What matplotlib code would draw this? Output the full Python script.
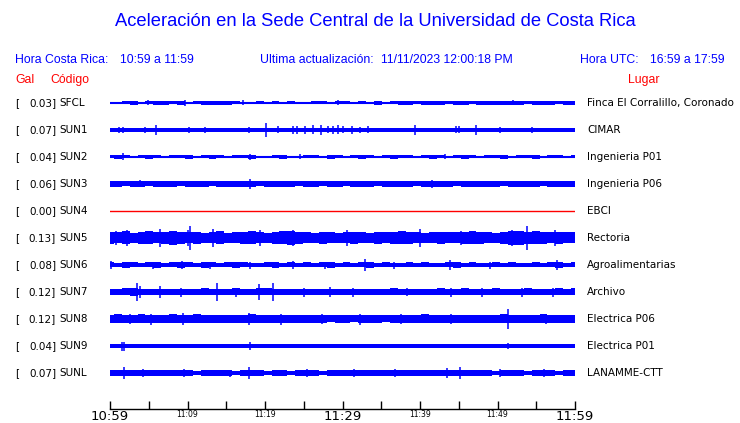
"""Acceleration traces, UNAM-style helicorder strip for the Sede Central stations."""
import numpy as np
import matplotlib
matplotlib.use("Agg")
import matplotlib.pyplot as plt
from matplotlib.transforms import blended_transform_factory

W, H = 740, 423
BLUE = "#0000ff"
RED = "#ff0000"

CODES = ["SFCL", "SUN1", "SUN2", "SUN3", "SUN4", "SUN5",
         "SUN6", "SUN7", "SUN8", "SUN9", "SUNL"]
PEAK_GAL = [0.03, 0.07, 0.04, 0.06, 0.00, 0.13, 0.08, 0.12, 0.12, 0.04, 0.07]
PLACES = ["Finca El Corralillo, Coronado", "CIMAR", "Ingenieria P01",
          "Ingenieria P06", "EBCI", "Rectoria", "Agroalimentarias", "Archivo",
          "Electrica P06", "Electrica P01", "LANAMME-CTT"]

# envelope of each trace, one value per minute (relative amplitude)
ENV = {
    "SFCL": [1.2, 0.8, 1.5, 1.8, 1.0, 1.5, 2.0, 2.0, 1.5, 1.8, 1.0, 1.5, 2.0, 2.0, 2.0,
             1.8, 1.5, 0.8, 1.0, 1.5, 1.0, 1.5, 0.8, 1.5, 1.0, 0.8, 1.5, 1.5, 1.0, 1.5,
             1.5, 1.0, 1.5, 1.0, 1.8, 1.0, 1.5, 1.8, 1.8, 1.5, 1.8, 2.0, 1.8, 1.5, 1.8,
             1.8, 1.5, 1.8, 2.0, 1.8, 2.0, 1.8, 2.0, 1.5, 1.8, 1.8, 2.0, 1.5, 2.0, 2.2],
    "SUN1": [2.2, 2.0, 2.2, 2.0, 2.2, 2.2, 2.0, 2.2, 2.0, 2.2, 2.2, 2.0, 2.2, 2.2, 2.0,
             2.2, 2.0, 2.2, 2.2, 2.0, 2.2, 2.2, 2.0, 2.2, 2.2, 2.0, 2.2, 2.2, 2.0, 2.2,
             2.2, 2.0, 2.2, 2.2, 2.0, 2.2, 2.2, 2.0, 2.2, 2.2, 2.0, 2.2, 2.2, 2.0, 2.2,
             2.2, 2.0, 2.2, 2.2, 2.0, 2.2, 2.2, 2.0, 2.2, 2.2, 2.0, 2.2, 2.2, 2.0, 2.2],
    "SUN2": [1.5, 1.8, 1.5, 1.2, 1.5, 1.8, 1.5, 1.2, 1.5, 1.5, 1.8, 1.2, 1.5, 1.8, 1.5,
             1.2, 1.5, 1.5, 1.8, 1.2, 1.0, 1.5, 1.8, 1.0, 1.2, 1.5, 1.5, 1.2, 1.8, 1.5,
             1.2, 1.5, 1.8, 1.5, 1.2, 1.5, 1.8, 1.5, 1.5, 1.2, 1.5, 1.8, 1.5, 1.2, 1.5,
             1.8, 1.5, 1.2, 1.5, 1.5, 1.8, 1.2, 1.5, 1.5, 1.8, 1.2, 1.5, 1.5, 1.2, 1.5],
    "SUN3": [3.0, 3.2, 2.5, 3.0, 2.8, 2.5, 3.0, 3.2, 2.8, 2.5, 3.0, 2.8, 3.2, 2.5, 3.0,
             3.0, 2.8, 3.2, 3.0, 2.5, 2.8, 3.0, 3.2, 2.8, 2.5, 3.0, 2.8, 2.5, 3.0, 2.8,
             2.5, 3.0, 2.8, 3.0, 2.5, 2.8, 3.0, 3.2, 2.8, 2.5, 3.0, 3.2, 2.8, 3.0, 2.5,
             3.0, 2.8, 3.2, 3.0, 2.8, 2.5, 3.0, 3.2, 2.8, 3.0, 2.5, 3.0, 2.8, 3.0, 3.0],
    "SUN4": [0.0] * 60,
    "SUN5": [6.0, 5.5, 6.5, 5.0, 6.0, 6.5, 5.5, 6.0, 7.0, 6.0, 5.5, 6.0, 5.0, 5.5, 6.5,
             5.0, 5.5, 6.0, 6.5, 5.5, 5.0, 6.0, 6.5, 7.0, 6.0, 5.5, 5.0, 6.0, 5.5, 5.0,
             5.5, 6.0, 5.5, 5.0, 6.0, 5.5, 6.0, 6.5, 6.0, 5.5, 5.0, 5.5, 6.0, 5.5, 5.5,
             6.0, 6.5, 6.0, 5.5, 5.0, 6.0, 7.0, 7.0, 6.0, 6.5, 6.0, 5.5, 6.0, 5.5, 5.5],
    "SUN6": [2.5, 2.2, 2.8, 2.5, 2.0, 2.5, 2.8, 2.2, 2.5, 3.0, 2.5, 2.2, 2.8, 2.5, 2.2,
             2.5, 2.8, 2.5, 2.0, 2.2, 2.5, 2.8, 2.2, 2.5, 2.0, 2.5, 2.2, 2.5, 2.8, 2.2,
             2.5, 2.0, 2.5, 2.8, 2.2, 2.5, 2.2, 2.0, 2.5, 2.2, 2.5, 2.2, 2.0, 2.5, 2.8,
             2.2, 2.5, 2.0, 2.2, 2.5, 2.2, 2.5, 2.0, 2.2, 2.5, 2.2, 2.5, 2.8, 2.2, 2.5],
    "SUN7": [3.2, 3.0, 3.5, 3.8, 3.0, 3.2, 3.0, 2.8, 3.2, 3.0, 2.8, 3.2, 3.5, 3.0, 2.8,
             3.2, 3.5, 3.0, 3.2, 3.5, 3.5, 3.2, 3.0, 2.8, 3.0, 3.2, 2.8, 3.0, 3.2, 3.0,
             2.8, 3.0, 3.2, 3.0, 3.2, 3.0, 3.5, 3.0, 2.8, 3.2, 3.0, 3.2, 3.5, 3.0, 3.2,
             3.5, 3.2, 3.0, 3.2, 3.5, 3.2, 3.0, 3.2, 3.5, 3.2, 3.0, 3.2, 3.5, 3.2, 3.5],
    "SUN8": [4.0, 4.5, 3.8, 4.2, 4.5, 4.0, 4.2, 3.8, 4.5, 4.0, 4.2, 4.5, 3.8, 4.0, 4.2,
             3.8, 4.0, 4.2, 4.5, 4.0, 3.8, 4.2, 4.0, 3.8, 4.2, 4.0, 3.8, 4.0, 3.5, 3.8,
             4.0, 3.5, 3.8, 4.0, 3.8, 3.5, 4.0, 3.8, 4.0, 4.2, 4.5, 4.0, 3.8, 4.2, 4.0,
             3.8, 4.0, 4.2, 4.0, 4.2, 4.5, 4.0, 3.8, 4.2, 4.0, 4.5, 4.0, 4.2, 4.0, 4.2],
    "SUN9": [2.0, 2.0, 2.2, 2.0, 2.0, 2.2, 2.0, 2.0, 2.0, 2.2, 2.0, 2.0, 2.0, 2.2, 2.0,
             2.0, 2.0, 2.2, 2.0, 2.0, 2.2, 2.0, 2.0, 2.0, 2.2, 2.0, 2.0, 2.0, 2.2, 2.0,
             2.0, 2.0, 2.2, 2.0, 2.0, 2.2, 2.0, 2.0, 2.0, 2.2, 2.0, 2.0, 2.0, 2.2, 2.0,
             2.0, 2.0, 2.2, 2.0, 2.0, 2.2, 2.0, 2.0, 2.0, 2.2, 2.0, 2.0, 2.0, 2.2, 2.0],
    "SUNL": [2.5, 3.0, 2.8, 3.2, 2.5, 2.8, 3.0, 2.5, 2.8, 3.2, 2.5, 2.2, 2.8, 2.5, 3.0,
             2.5, 2.2, 2.8, 3.0, 2.5, 2.2, 2.5, 2.8, 2.2, 2.5, 2.8, 2.5, 2.2, 2.5, 2.8,
             2.5, 2.8, 3.0, 2.5, 2.8, 3.2, 3.0, 2.8, 3.0, 2.5, 2.8, 2.5, 3.0, 3.2, 2.8,
             3.0, 2.5, 2.8, 2.5, 2.2, 2.5, 2.8, 2.5, 2.2, 2.5, 2.8, 2.5, 2.2, 2.5, 2.8],
}

# isolated peaks: (minute after 10:59, relative amplitude)
SPIKES = {
    "SFCL": [(4.9, 2.5), (9.7, 3.0), (17.2, 2.5), (29.4, 2.5), (52.0, 2.5)],
    "SUN1": [(1.2, 3.0), (1.7, 3.0), (4.5, 2.8), (5.9, 5.0), (10.2, 3.0), (12.3, 3.0),
             (17.9, 3.0), (20.1, 7.0), (21.7, 3.5), (23.6, 4.0), (24.1, 4.0),
             (25.2, 4.0), (26.2, 4.5), (27.2, 5.0), (28.1, 3.5), (28.8, 4.0),
             (29.4, 4.5), (30.1, 3.5), (31.2, 4.0), (32.3, 3.0), (33.3, 3.5),
             (39.4, 5.0), (44.6, 3.5), (45.0, 3.5), (47.2, 5.0), (50.3, 2.8), (54.5, 2.8)],
    "SUN2": [(1.7, 3.5), (18.1, 3.0), (24.5, 2.5), (43.2, 2.5)],
    "SUN3": [(3.9, 3.5), (18.1, 5.0), (41.5, 4.0)],
    "SUN4": [],
    "SUN5": [(0.8, 7.0), (2.2, 8.0), (6.5, 9.0), (10.0, 8.0), (10.3, 12.0),
             (13.3, 9.0), (19.4, 8.0), (23.6, 8.0), (30.6, 8.0), (40.0, 9.0),
             (45.3, 7.0), (51.9, 8.0), (53.8, 12.0), (57.4, 8.0)],
    "SUN6": [(0.1, 4.0), (5.6, 3.5), (9.3, 4.0), (12.9, 3.5), (18.0, 3.5), (23.6, 4.0),
             (27.8, 3.5), (32.9, 6.0), (36.6, 3.5), (43.9, 5.0), (49.0, 3.5),
             (57.7, 5.0)],
    "SUN7": [(3.5, 9.0), (3.9, 6.0), (6.5, 6.0), (9.1, 4.5), (13.8, 9.0), (16.2, 4.5),
             (19.2, 8.0), (21.0, 9.0), (25.0, 4.5), (28.4, 5.0), (31.4, 4.5),
             (38.3, 4.0), (44.0, 4.5), (48.0, 4.5), (53.2, 4.5), (57.2, 4.5)],
    "SUN8": [(2.6, 5.0), (5.3, 5.5), (9.4, 6.0), (11.6, 4.5), (17.9, 6.0), (22.0, 5.5),
             (27.4, 5.0), (32.2, 5.5), (37.5, 5.0), (44.0, 5.0), (51.4, 10.0),
             (56.2, 5.0)],
    "SUN9": [(1.6, 4.5), (1.8, 4.5), (18.1, 4.0), (51.4, 3.0)],
    "SUNL": [(1.8, 6.0), (4.2, 4.0), (9.5, 4.0), (15.5, 3.5), (17.9, 6.0),
             (25.4, 4.0), (31.5, 4.0), (36.8, 4.5), (43.5, 5.0), (45.2, 5.5),
             (50.3, 4.5), (56.0, 4.0)],
}

TICK_MIN = list(range(0, 61, 5))
TICK_LABELS = ["10:59", "", "11:09", "", "11:19", "", "11:29",
               "", "11:39", "", "11:49", "", "11:59"]
BIG_LABELS = {"10:59", "11:29", "11:59"}

ROW_PX = 27.0  # vertical spacing between traces, in pixels


def main():
    fig = plt.figure(figsize=(W / 100, H / 100), dpi=100)
    ax = fig.add_axes([110 / W, 1 - 409 / H, 465 / W, (409 - 90) / H])
    ax.set_xlim(0, 60)
    ax.set_ylim((409 - 103) / ROW_PX, (90 - 103) / ROW_PX)

    scale = 1 / ROW_PX
    for i, code in enumerate(CODES):
        env = np.asarray(ENV[code]) * scale
        if code == "SUN4":
            ax.plot([0, 60], [i, i], color=RED, lw=1)
            continue
        xs = np.linspace(0, 60, len(env))
        ax.fill_between(xs, i - env, i + env, step="mid", color=BLUE, lw=0)
        ax.plot([0, 60], [i, i], color=BLUE, lw=1.5)
        sp = SPIKES[code]
        if sp:
            sx = [s[0] for s in sp]
            sh = np.array([s[1] for s in sp]) * scale
            ax.vlines(sx, i - sh, i + sh, color=BLUE, lw=1.1)

    for s in ("top", "left", "right"):
        ax.spines[s].set_visible(False)
    ax.spines["bottom"].set_linewidth(1)
    ax.set_yticks([])
    ax.set_xticks(TICK_MIN)
    ax.set_xticklabels(TICK_LABELS)
    ax.tick_params(axis="x", direction="in", length=6, width=1, pad=1)
    for lab in ax.get_xticklabels():
        big = lab.get_text() in BIG_LABELS
        lab.set_fontsize(9.5 if big else 5.5)
        lab.set_fontfamily("DejaVu Sans")

    # station labels on both sides
    tr = blended_transform_factory(fig.transFigure, ax.transData)
    for i, (code, gal, place) in enumerate(zip(CODES, PEAK_GAL, PLACES)):
        kw = dict(transform=tr, va="center", fontsize=7.5, family="DejaVu Sans",
                  color="black", clip_on=False)
        ax.text(15 / W, i, "[", ha="left", **kw)
        ax.text(56 / W, i, f"{gal:.2f}]", ha="right", **kw)
        ax.text(59 / W, i, code, ha="left", **kw)
        ax.text(587 / W, i, place, ha="left", **kw)

    hf = dict(family="Liberation Sans", fontsize=8.8, va="center")
    fig.text(375 / W, 1 - 22 / H, "Aceleración en la Sede Central de la Universidad de Costa Rica",
             ha="center", va="center", family="Liberation Sans", fontsize=13.2, color=BLUE)
    y1 = 1 - 60 / H
    fig.text(15 / W, y1, "Hora Costa Rica:", color=BLUE, **hf)
    fig.text(120 / W, y1, "10:59 a 11:59", color=BLUE, **hf)
    fig.text(260 / W, y1, "Ultima actualización:", color=BLUE, **hf)
    fig.text(381 / W, y1, "11/11/2023 12:00:18 PM", color=BLUE, **hf)
    fig.text(580 / W, y1, "Hora UTC:", color=BLUE, **hf)
    fig.text(650 / W, y1, "16:59 a 17:59", color=BLUE, **hf)
    y2 = 1 - 80 / H
    fig.text(15 / W, y2, "Gal", color=RED, **hf)
    fig.text(50 / W, y2, "Código", color=RED, **hf)
    fig.text(628 / W, y2, "Lugar", color=RED, **hf)

    fig.savefig("out.png", dpi=100)


if __name__ == "__main__":
    main()
